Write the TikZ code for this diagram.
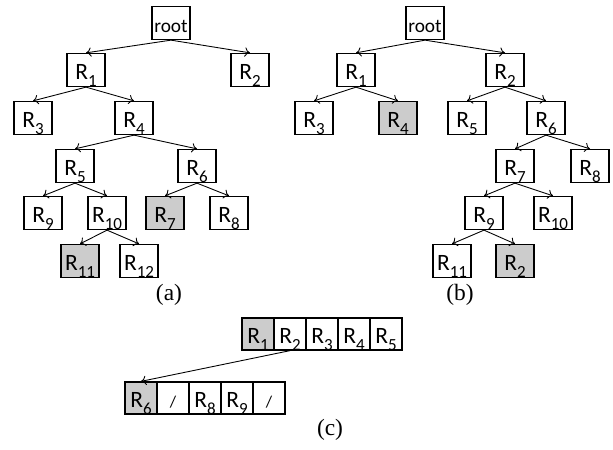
\documentclass[tikz,border=0pt]{standalone}
\usepackage{fontspec}
\setmainfont{Liberation Serif}
\newfontfamily\boxfont{Carlito}
\usetikzlibrary{arrows.meta}

\tikzset{
  rbox/.style={draw, line width=1.1pt, inner sep=0pt,
    minimum width=1.14cm, minimum height=0.99cm,
    text height=16pt, text depth=0pt,
    font=\boxfont\fontsize{20}{22}\selectfont},
  hit/.style={rbox, fill=gray!40},
  cell/.style={rbox, minimum width=0.96cm, minimum height=0.96cm, text height=17pt},
  hitcell/.style={cell, fill=gray!40},
  link/.style={-{To[length=4.5pt,width=8pt]}, line width=0.75pt},
  caption/.style={font=\fontsize{20}{22}\selectfont}
}
\newcommand{\Rs}[1]{R\raisebox{-6pt}{\fontsize{14.5}{15}\selectfont#1}}
\newcommand{\rootlabel}{{\fontsize{16.5}{18}\selectfont root}}
\newcommand{\nil}{{\fontsize{14}{15}\selectfont /}}

\begin{document}
\begin{tikzpicture}[x=0.03cm,y=-0.03cm]
        \useasboundingbox (0,0) rectangle (613,450);
        % tree (a)
        \node[rbox] (aroot) at (171,23) {\rootlabel};
        \node[rbox] (a1) at (86,70) {\Rs{1}};
        \node[rbox] (a2) at (250,70) {\Rs{2}};
        \node[rbox] (a3) at (33,118) {\Rs{3}};
        \node[rbox] (a4) at (134,118) {\Rs{4}};
        \node[rbox] (a5) at (75,166) {\Rs{5}};
        \node[rbox] (a6) at (197,166) {\Rs{6}};
        \node[rbox] (a9) at (43,213) {\Rs{9}};
        \node[rbox] (a10) at (107,213) {\Rs{10}};
        \node[hit] (a7) at (165,213) {\Rs{7}};
        \node[rbox] (a8) at (229,213) {\Rs{8}};
        \node[hit] (a11) at (80,261) {\Rs{11}};
        \node[rbox] (a12) at (139,261) {\Rs{12}};
        \draw[link] (aroot.south) -- (a1.north);
        \draw[link] (aroot.south) -- (a2.north);
        \draw[link] (a1.south) -- (a3.north);
        \draw[link] (a1.south) -- (a4.north);
        \draw[link] (a4.south) -- (a5.north);
        \draw[link] (a4.south) -- (a6.north);
        \draw[link] (a5.south) -- (a9.north);
        \draw[link] (a5.south) -- (a10.north);
        \draw[link] (a6.south) -- (a7.north);
        \draw[link] (a6.south) -- (a8.north);
        \draw[link] (a10.south) -- (a11.north);
        \draw[link] (a10.south) -- (a12.north);
        \node[caption] (capa) at (169,295) {(a)};

        % tree (b)
        \node[rbox] (broot) at (425,23) {\rootlabel};
        \node[rbox] (b1) at (356,70) {\Rs{1}};
        \node[rbox] (b2) at (505,70) {\Rs{2}};
        \node[rbox] (b3) at (314,118) {\Rs{3}};
        \node[hit] (b4) at (398,118) {\Rs{4}};
        \node[rbox] (b5) at (467,118) {\Rs{5}};
        \node[rbox] (b6) at (546,118) {\Rs{6}};
        \node[rbox] (b7) at (515,166) {\Rs{7}};
        \node[rbox] (b8) at (590,166) {\Rs{8}};
        \node[rbox] (b9) at (484,213) {\Rs{9}};
        \node[rbox] (b10) at (553,213) {\Rs{10}};
        \node[rbox] (b11) at (452,261) {\Rs{11}};
        \node[hit] (b2leaf) at (515,261) {\Rs{2}};
        \draw[link] (broot.south) -- (b1.north);
        \draw[link] (broot.south) -- (b2.north);
        \draw[link] (b1.south) -- (b3.north);
        \draw[link] (b1.south) -- (b4.north);
        \draw[link] (b2.south) -- (b5.north);
        \draw[link] (b2.south) -- (b6.north);
        \draw[link] (b6.south) -- (b7.north);
        \draw[link] (b6.south) -- (b8.north);
        \draw[link] (b7.south) -- (b9.north);
        \draw[link] (b7.south) -- (b10.north);
        \draw[link] (b9.south) -- (b11.north);
        \draw[link] (b9.south) -- (b2leaf.north);
        \node[caption] (capb) at (460,295) {(b)};

        % arrays (c)
        \node[hitcell] (c1) at (258,334) {\Rs{1}};
        \node[cell] (c2) at (290,334) {\Rs{2}};
        \node[cell] (c3) at (322,334) {\Rs{3}};
        \node[cell] (c4) at (354,334) {\Rs{4}};
        \node[cell] (c5) at (386,334) {\Rs{5}};
        \node[hitcell] (d6) at (141,398) {\Rs{6}};
        \node[cell] (d7) at (173,398) {\nil};
        \node[cell] (d8) at (205,398) {\Rs{8}};
        \node[cell] (d9) at (237,398) {\Rs{9}};
        \node[cell] (d10) at (269,398) {\nil};
        \draw[link] (c2.south) -- (d6.north);
        \node[caption] (capc) at (330,430) {(c)};
\end{tikzpicture}
\end{document}
